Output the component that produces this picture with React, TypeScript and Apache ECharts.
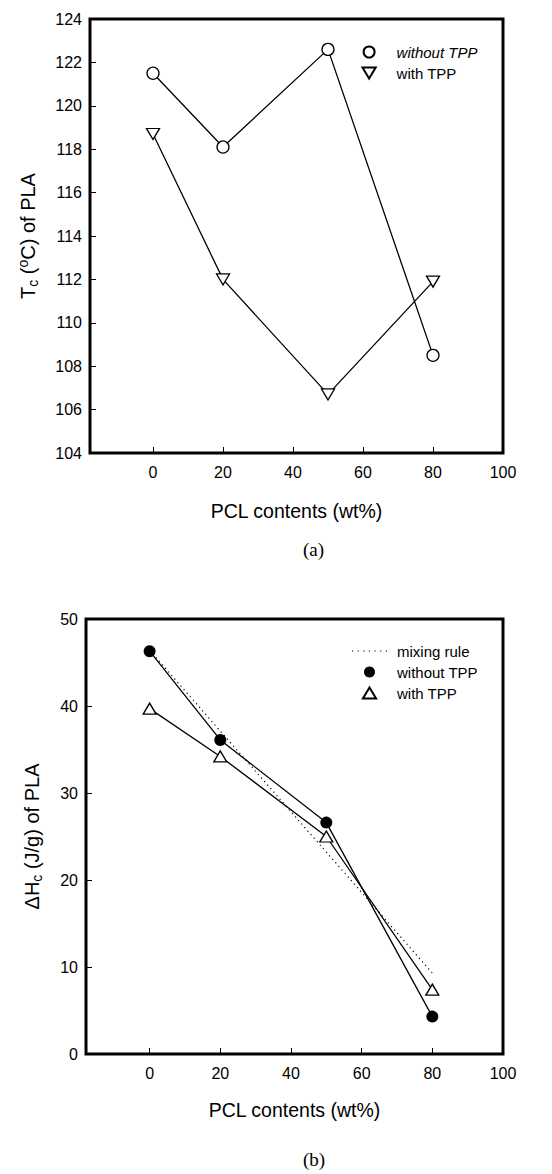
import React, { useEffect, useRef } from "react";
import * as echarts from "echarts";

const pclContents = [0, 20, 50, 80];
const xTickValues = [0, 20, 40, 60, 80, 100];
const tcWithoutTPP = [121.5, 118.1, 122.6, 108.5];
const tcWithTPP = [118.7, 112.0, 106.7, 111.9];
const dhWithoutTPP = [46.3, 36.1, 26.6, 4.3];
const dhWithTPP = [39.7, 34.2, 25.0, 7.4];
const mixingX = [0, 80];
const mixingRule = [46.4, 9.3];

const SANS = "'Liberation Sans', Arial, sans-serif";
const SERIF = "'Liberation Serif', 'Times New Roman', serif";
const DOWN_TRI = "path://M0,0L12,0L6,10Z";
const UP_TRI = "path://M6,0L12,10L0,10Z";
const DOTS_ICON =
  "path://M0,0h1.2v1.2h-1.2Z M5.6,0h1.2v1.2h-1.2Z M11.2,0h1.2v1.2h-1.2Z M16.8,0h1.2v1.2h-1.2Z M22.4,0h1.2v1.2h-1.2Z M28,0h1.2v1.2h-1.2Z M33.6,0h1.2v1.2h-1.2Z";

const pairs = (xs: number[], ys: number[]) => xs.map((x, i) => [x, ys[i]]);

export default function App() {
  const ref = useRef<HTMLDivElement>(null);
  useEffect(() => {
    if (!ref.current) return;
    const chart = echarts.init(ref.current, undefined, { renderer: "svg" });
    const xAxisBase = (gridIndex: number, gap: number) => ({
      type: "value",
      gridIndex,
      min: -18,
      max: 100,
      splitLine: { show: false },
      axisLine: { show: false, onZero: false },
      axisTick: { show: true, inside: true, length: 6, customValues: xTickValues, lineStyle: { color: "#000", width: 1 } },
      axisLabel: { customValues: xTickValues, color: "#000", fontFamily: SANS, fontSize: 16, margin: 11 },
      name: "PCL contents (wt%)",
      nameLocation: "middle",
      nameGap: gap,
      nameTextStyle: { color: "#000", fontFamily: SANS, fontSize: 19.5 },
    });
    const richName = {
      t: { fontFamily: SANS, fontSize: 20, color: "#000", lineHeight: 24 },
      s: { fontFamily: SANS, fontSize: 14, color: "#000", verticalAlign: "bottom", lineHeight: 24 },
      p: { fontFamily: SANS, fontSize: 14, color: "#000", verticalAlign: "top", lineHeight: 24 },
    };
    const yAxisBase = (gridIndex: number, min: number, max: number, interval: number, name: string, gap: number) => ({
      type: "value",
      gridIndex,
      min,
      max,
      interval,
      splitLine: { show: false },
      axisLine: { show: false, onZero: false },
      axisTick: { show: true, inside: true, length: 6, lineStyle: { color: "#000", width: 1 } },
      axisLabel: { color: "#000", fontFamily: SANS, fontSize: 16, margin: 8 },
      name,
      nameLocation: "middle",
      nameRotate: 90,
      nameGap: gap,
      nameTextStyle: { rich: richName },
    });
    const lineStyle = { color: "#000", width: 1.3 };
    const hollow = { color: "#fff", borderColor: "#000", borderWidth: 1.3 };
    const legendText = { color: "#000", fontFamily: SANS, fontSize: 15, lineHeight: 15, padding: [0, 0, 0, 5] };
    chart.setOption({
      animation: false,
      backgroundColor: "#fff",
      grid: [
        { left: 90, top: 19, width: 413, height: 434, show: true, borderWidth: 3, borderColor: "#000", backgroundColor: "transparent" },
        { left: 86, top: 619, width: 417, height: 435, show: true, borderWidth: 3, borderColor: "#000", backgroundColor: "transparent" },
      ],
      xAxis: [xAxisBase(0, 48), xAxisBase(1, 46)],
      yAxis: [
        yAxisBase(0, 104, 124, 2, "{t|T}{s|c}{t| (}{p|o}{t|C) of PLA}", 50),
        yAxisBase(1, 0, 50, 10, "{t|ΔH}{s|c}{t| (J/g) of PLA}", 42),
      ],
      legend: [
        {
          left: 356.5,
          top: 39.5,
          orient: "vertical",
          itemWidth: 35,
          itemHeight: 11,
          itemGap: 6,
          selectedMode: false,
          textStyle: legendText,
          data: [
            { name: "without TPP", icon: "circle", textStyle: { fontStyle: "italic" } },
            { name: "with TPP", icon: DOWN_TRI },
          ],
        },
        {
          left: 347,
          top: 638.5,
          orient: "vertical",
          itemWidth: 35,
          itemHeight: 11,
          itemGap: 6,
          selectedMode: false,
          textStyle: legendText,
          data: [
            { name: "mixing rule", icon: DOTS_ICON, itemStyle: { color: "#000", borderWidth: 0 } },
            { name: "without TPP ", icon: "circle" },
            { name: "with TPP ", icon: UP_TRI },
          ],
        },
      ],
      series: [
        {
          type: "line",
          name: "without TPP",
          xAxisIndex: 0,
          yAxisIndex: 0,
          data: pairs(pclContents, tcWithoutTPP),
          symbol: "circle",
          symbolSize: 12,
          lineStyle,
          itemStyle: hollow,
          z: 3,
        },
        {
          type: "line",
          name: "with TPP",
          xAxisIndex: 0,
          yAxisIndex: 0,
          data: pairs(pclContents, tcWithTPP),
          symbol: DOWN_TRI,
          symbolSize: [13, 11],
          lineStyle,
          itemStyle: hollow,
          z: 3,
        },
        {
          type: "line",
          name: "mixing rule",
          xAxisIndex: 1,
          yAxisIndex: 1,
          data: pairs(mixingX, mixingRule),
          symbol: "none",
          showSymbol: false,
          lineStyle: { color: "#000", width: 1.2, type: [1.2, 3.5] },
          itemStyle: { color: "#000" },
          z: 2,
        },
        {
          type: "line",
          name: "without TPP ",
          xAxisIndex: 1,
          yAxisIndex: 1,
          data: pairs(pclContents, dhWithoutTPP),
          symbol: "circle",
          symbolSize: 12,
          lineStyle,
          itemStyle: { color: "#000", borderColor: "#000", borderWidth: 0 },
          z: 3,
        },
        {
          type: "line",
          name: "with TPP ",
          xAxisIndex: 1,
          yAxisIndex: 1,
          data: pairs(pclContents, dhWithTPP),
          symbol: UP_TRI,
          symbolSize: [13, 11],
          lineStyle,
          itemStyle: hollow,
          z: 3,
        },
      ],
      graphic: [
        { type: "text", left: 303, top: 540, style: { text: "(a)", font: `19px ${SERIF}`, fill: "#000", align: "center" } },
        { type: "text", left: 303, top: 1150, style: { text: "(b)", font: `19px ${SERIF}`, fill: "#000", align: "center" } },
      ],
    });
    return () => chart.dispose();
  }, []);
  return <div ref={ref} style={{ position: "absolute", left: 0, top: 0, width: 552, height: 1174 }} />;
}
